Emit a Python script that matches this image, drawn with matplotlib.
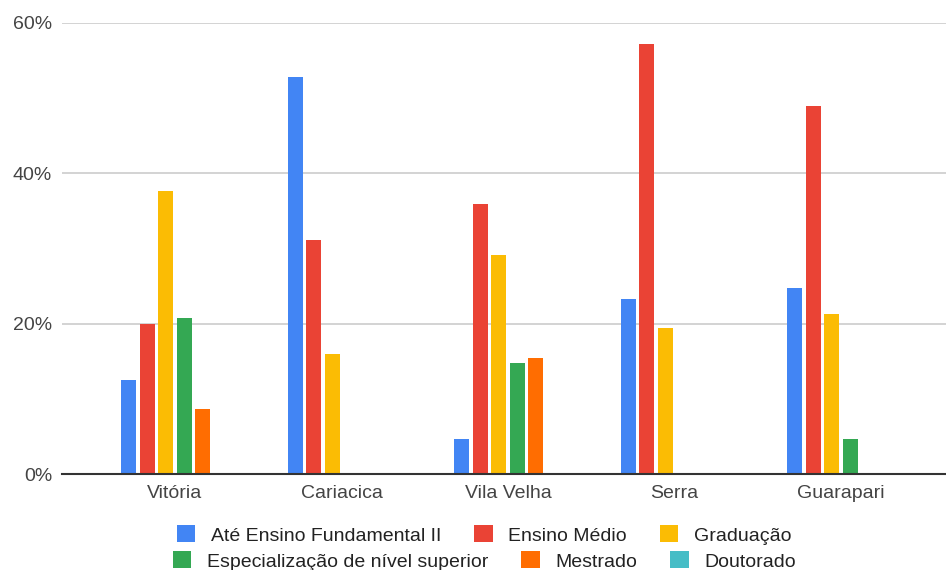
import matplotlib
matplotlib.use("Agg")
import matplotlib.pyplot as plt
from matplotlib.patches import Patch
import numpy as np

plt.rcParams["font.family"] = ["Liberation Sans", "DejaVu Sans"]

cities = ["Vitória", "Cariacica", "Vila Velha", "Serra", "Guarapari"]
series = ["Até Ensino Fundamental II", "Ensino Médio", "Graduação",
          "Especialização de nível superior", "Mestrado", "Doutorado"]
fundamental = [12.5, 52.7, 4.7, 23.3, 24.7]
medio = [20.0, 31.1, 35.9, 57.1, 48.9]
graduacao = [37.6, 16.0, 29.1, 19.4, 21.3]
especializacao = [20.7, 0.0, 14.7, 0.0, 4.7]
mestrado = [8.7, 0.0, 15.4, 0.0, 0.0]
doutorado = [0.0, 0.0, 0.0, 0.0, 0.0]
values = [fundamental, medio, graduacao, especializacao, mestrado, doutorado]
colors = ["#4285F4", "#EA4335", "#FBBC04", "#34A853", "#FF6D01", "#46BDC6"]
yticks = [0, 20, 40, 60]

fig = plt.figure(figsize=(9.46, 5.70), dpi=100)
ax = fig.add_axes([0.0655, 0.1684, 0.9345, 0.7921])

x = np.arange(len(cities))
step = 0.111
width = 0.09
for i, (vals, col) in enumerate(zip(values, colors)):
    offs = (i - 2.5) * step
    ax.bar(x + offs, vals, width=width, color=col, linewidth=0, zorder=3)

ax.set_xlim(-0.679, 4.631)
ax.set_ylim(0, 60)
ax.set_yticks(yticks)
ax.set_yticklabels([f"{t}%" for t in yticks])
ax.set_xticks(x)
ax.set_xticklabels(cities)
ax.tick_params(axis="both", length=0, labelsize=14, colors="#444444")
ax.tick_params(axis="x", pad=8)
ax.tick_params(axis="y", pad=7)
ax.grid(axis="y", color="#cccccc", linewidth=1.2, zorder=0)
for s in ["top", "right", "left"]:
    ax.spines[s].set_visible(False)
ax.spines["bottom"].set_color("#333333")
ax.spines["bottom"].set_linewidth(1.5)
ax.spines["bottom"].set_zorder(4)

handles = [Patch(facecolor=c, edgecolor="none") for c in colors]
common = dict(frameon=False, ncol=3, fontsize=14, handlelength=0.95,
              handleheight=0.95, handletextpad=0.8, columnspacing=1.7,
              borderaxespad=0, borderpad=0, labelcolor="#222222")
leg1 = fig.legend(handles[:3], series[:3], loc="center",
                  bbox_to_anchor=(484 / 946, 1 - 535 / 570), **common)
leg2 = fig.legend(handles[3:], series[3:], loc="center",
                  bbox_to_anchor=(484.5 / 946, 1 - 561 / 570), **common)

fig.savefig("out.png", dpi=100, facecolor="white")
